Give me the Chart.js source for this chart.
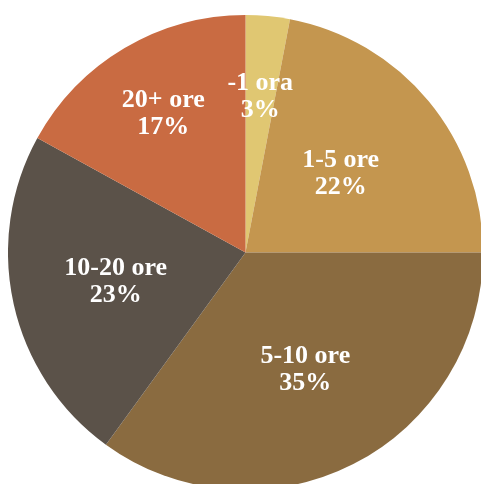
<!DOCTYPE html>
<html>
<head>
<meta charset="utf-8">
<script src="https://cdn.jsdelivr.net/npm/chart.js@4"></script>
<style>
  html, body { margin: 0; padding: 0; background: #fff; overflow: hidden; }
  body { width: 481px; height: 484px; position: relative; }
  #wrap { position: absolute; left: 8px; top: 15px; width: 475px; height: 475px; }
</style>
</head>
<body>
<div id="wrap"><canvas id="pie" width="475" height="475"></canvas></div>
<script>
const categories = ['-1 ora', '1-5 ore', '5-10 ore', '10-20 ore', '20+ ore'];
const shares = [3, 22, 35, 23, 17];
const colors = ['#e0c772', '#c4964f', '#8a6b40', '#5b5249', '#c96b42'];

// how far out (fraction of radius) each label sits
const labelRadius = [0.66, 0.52, 0.555, 0.56, 0.68];

const sliceLabels = {
  id: 'sliceLabels',
  afterDatasetsDraw(chart) {
    const ctx = chart.ctx;
    const meta = chart.getDatasetMeta(0);
    ctx.save();
    ctx.fillStyle = '#fff';
    ctx.font = 'bold 26px "Liberation Serif", "Times New Roman", serif';
    ctx.textAlign = 'center';
    ctx.textBaseline = 'middle';
    meta.data.forEach((arc, i) => {
      const p = arc.getProps(['x', 'y', 'startAngle', 'endAngle', 'outerRadius'], true);
      const mid = (p.startAngle + p.endAngle) / 2;
      const r = p.outerRadius * labelRadius[i];
      const x = p.x + Math.cos(mid) * r;
      const y = p.y + Math.sin(mid) * r;
      ctx.fillText(categories[i], x, y - 13.5);
      ctx.fillText(shares[i] + '%', x, y + 13.5);
    });
    ctx.restore();
  }
};

new Chart(document.getElementById('pie'), {
  type: 'pie',
  data: {
    labels: categories,
    datasets: [{
      data: shares,
      backgroundColor: colors,
      borderWidth: 0
    }]
  },
  options: {
    responsive: false,
    animation: false,
    layout: { padding: 0 },
    plugins: {
      legend: { display: false },
      tooltip: { enabled: false }
    }
  },
  plugins: [sliceLabels]
});
</script>
</body>
</html>
